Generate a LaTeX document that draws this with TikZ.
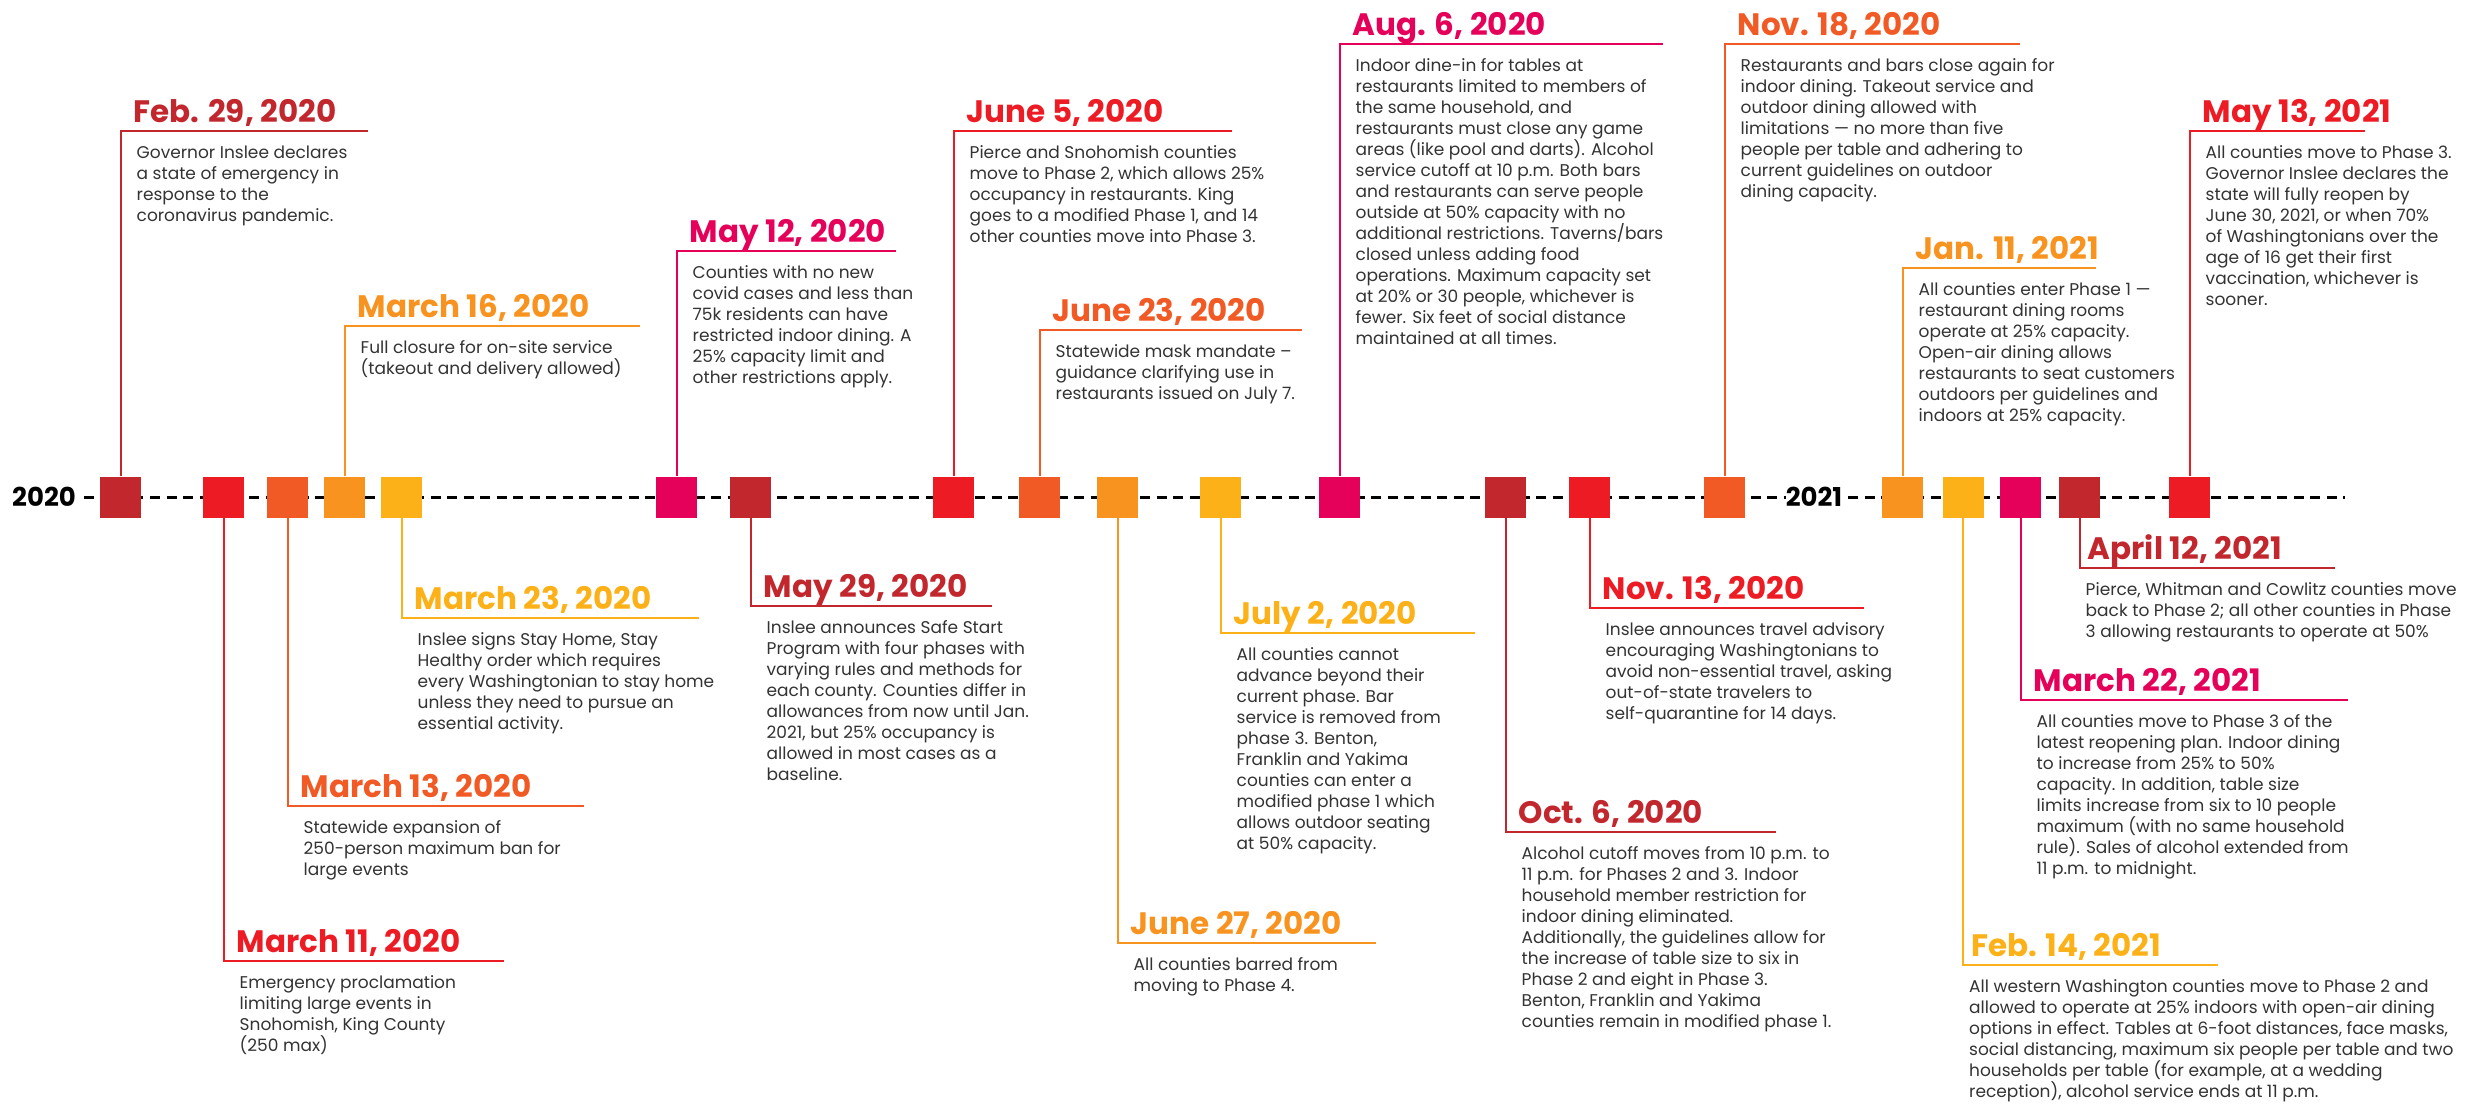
\documentclass[tikz,border=0pt]{standalone}
\usepackage{fontspec}
\setmainfont{Poppins}
\definecolor{cdark}{HTML}{C1272D}
\definecolor{cred}{HTML}{ED1C24}
\definecolor{corr}{HTML}{F15A24}
\definecolor{corg}{HTML}{F7931E}
\definecolor{cyel}{HTML}{FBB117}
\definecolor{cmag}{HTML}{E5005A}
\definecolor{ctext}{HTML}{333333}
\tikzset{
  sq/.style={minimum width=41pt,minimum height=41pt,inner sep=0pt,draw=none},
  conn/.style={line width=2pt},
  ttl/.style={inner sep=0pt,font=\fontsize{31}{35}\selectfont\bfseries},
  body/.style={inner sep=0pt,align=left,text=ctext,font=\fontsize{17}{21}\selectfont},
  yearlbl/.style={inner sep=0pt,font=\fontsize{26}{30}\selectfont\bfseries,text=black},
  axis/.style={line width=3pt,dash pattern=on 10pt off 6.5pt,black}
}
\def\tdx{13}\def\bdx{16}
\newcommand{\event}[8]{%
  \node[sq,fill=#5] (s#1) at (#2,497) {};
  \coordinate (e#1) at (#4,#3);
  \draw[conn,#5] (s#1.#8) |- (e#1);
  \node[ttl,text=#5,anchor=base west] (t#1) at (#2+\tdx,#3-9) {#6};
  \node[body,anchor=north west] (b#1) at (#2+\bdx,#3+14.5) {#7};
}
\begin{document}
\begin{tikzpicture}[x=1pt,y=-1pt]
\useasboundingbox[fill=white] (0,0) rectangle (2484,1103);
\node[yearlbl] (y20) at (44,497) {2020};
\node[yearlbl] (y21) at (1814,497) {2021};
\coordinate (axend) at (2345,497);
\draw[axis] (y20.east) ++(8,0) -- (y21.west);
\draw[axis] (y21.east) ++(6,0) -- (axend);
% top events
\event{1}{120.5}{131}{368}{cdark}{Feb. 29, 2020}{Governor Inslee declares\\a state of emergency in\\response to the\\coronavirus pandemic.}{north}
\event{4}{344.5}{326}{640}{corg}{March 16, 2020}{Full closure for on-site service\\(takeout and delivery allowed)}{north}
\event{6}{676.5}{251}{896}{cmag}{May 12, 2020}{Counties with no new\\covid cases and less than\\75k residents can have\\restricted indoor dining. A\\25\% capacity limit and\\other restrictions apply.}{north}
\event{8}{953.5}{131}{1232}{cred}{June 5, 2020}{Pierce and Snohomish counties\\move to Phase 2, which allows 25\%\\occupancy in restaurants. King\\goes to a modified Phase 1, and 14\\other counties move into Phase 3.}{north}
\event{9}{1039.5}{330}{1302}{corr}{June 23, 2020}{Statewide mask mandate –\\guidance clarifying use in\\restaurants issued on July 7.}{north}
\event{12}{1339.5}{44}{1663}{cmag}{Aug. 6, 2020}{Indoor dine-in for tables at\\restaurants limited to members of\\the same household, and\\restaurants must close any game\\areas (like pool and darts). Alcohol\\service cutoff at 10 p.m. Both bars\\and restaurants can serve people\\outside at 50\% capacity with no\\additional restrictions. Taverns/bars\\closed unless adding food\\operations. Maximum capacity set\\at 20\% or 30 people, whichever is\\fewer. Six feet of social distance\\maintained at all times.}{north}
\event{15}{1724.5}{44}{2020}{corr}{Nov. 18, 2020}{Restaurants and bars close again for\\indoor dining. Takeout service and\\outdoor dining allowed with\\limitations — no more than five\\people per table and adhering to\\current guidelines on outdoor\\dining capacity.}{north}
\event{16}{1902.5}{268}{2096}{corg}{Jan. 11, 2021}{All counties enter Phase 1 —\\restaurant dining rooms\\operate at 25\% capacity.\\Open-air dining allows\\restaurants to seat customers\\outdoors per guidelines and\\indoors at 25\% capacity.}{north}
\event{20}{2189.5}{131}{2365}{cred}{May 13, 2021}{All counties move to Phase 3.\\Governor Inslee declares the\\state will fully reopen by\\June 30, 2021, or when 70\%\\of Washingtonians over the\\age of 16 get their first\\vaccination, whichever is\\sooner.}{north}
% bottom events
\event{2}{223.5}{961}{504}{cred}{March 11, 2020}{Emergency proclamation\\limiting large events in\\Snohomish, King County\\(250 max)}{south}
\event{3}{287.5}{806}{584}{corr}{March 13, 2020}{Statewide expansion of\\250-person maximum ban for\\large events}{south}
\event{5}{401.5}{618}{699}{cyel}{March 23, 2020}{Inslee signs Stay Home, Stay\\Healthy order which requires\\every Washingtonian to stay home\\unless they need to pursue an\\essential activity.}{south}
\event{7}{750.5}{606}{992}{cdark}{May 29, 2020}{Inslee announces Safe Start\\Program with four phases with\\varying rules and methods for\\each county. Counties differ in\\allowances from now until Jan.\\2021, but 25\% occupancy is\\allowed in most cases as a\\baseline.}{south}
\event{10}{1117.5}{943}{1376}{corg}{June 27, 2020}{All counties barred from\\moving to Phase 4.}{south}
\event{11}{1220.5}{633}{1475}{cyel}{July 2, 2020}{All counties cannot\\advance beyond their\\current phase. Bar\\service is removed from\\phase 3. Benton,\\Franklin and Yakima\\counties can enter a\\modified phase 1 which\\allows outdoor seating\\at 50\% capacity.}{south}
\event{13}{1505.5}{832}{1776}{cdark}{Oct. 6, 2020}{Alcohol cutoff moves from 10 p.m. to\\11 p.m. for Phases 2 and 3. Indoor\\household member restriction for\\indoor dining eliminated.\\Additionally, the guidelines allow for\\the increase of table size to six in\\Phase 2 and eight in Phase 3.\\Benton, Franklin and Yakima\\counties remain in modified phase 1.}{south}
\event{14}{1589.5}{608}{1864}{cred}{Nov. 13, 2020}{Inslee announces travel advisory\\encouraging Washingtonians to\\avoid non-essential travel, asking\\out-of-state travelers to\\self-quarantine for 14 days.}{south}
\event{18}{2020.5}{700}{2348}{cmag}{March 22, 2021}{All counties move to Phase 3 of the\\latest reopening plan. Indoor dining\\to increase from 25\% to 50\%\\capacity. In addition, table size\\limits increase from six to 10 people\\maximum (with no same household\\rule). Sales of alcohol extended from\\11 p.m. to midnight.}{south}
\def\tdx{8}\def\bdx{6}
\event{17}{1963}{965}{2218}{cyel}{Feb. 14, 2021}{All western Washington counties move to Phase 2 and\\allowed to operate at 25\% indoors with open-air dining\\options in effect. Tables at 6-foot distances, face masks,\\social distancing, maximum six people per table and two\\households per table (for example, at a wedding\\reception), alcohol service ends at 11 p.m.}{south}
\event{19}{2079.5}{568}{2335}{cdark}{April 12, 2021}{Pierce, Whitman and Cowlitz counties move\\back to Phase 2; all other counties in Phase\\3 allowing restaurants to operate at 50\%}{south}
\end{tikzpicture}
\end{document}
